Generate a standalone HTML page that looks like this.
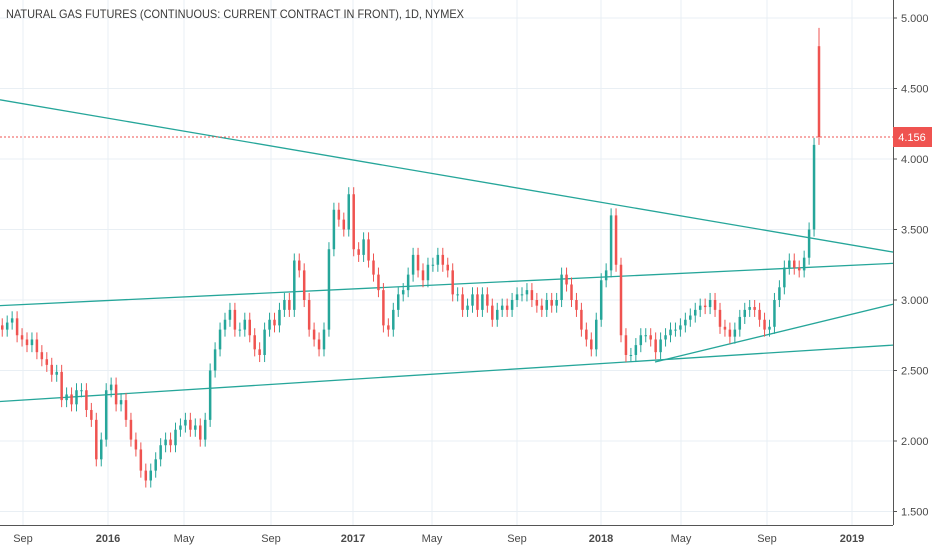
<!DOCTYPE html>
<html><head><meta charset="utf-8"><style>
body{margin:0;background:#fff;}
svg{display:block;font-family:"Liberation Sans",sans-serif;}
</style></head><body>
<svg id="chart" width="932" height="550" xmlns="http://www.w3.org/2000/svg">
<g id="grid"></g>
<g id="trend"></g>
<g id="candles"></g>
<line x1="0" x2="893" y1="137" y2="137" stroke="#ef5350" stroke-width="1" stroke-dasharray="2,2"/>
<g id="axes"></g>
<text x="6" y="18" font-size="12" fill="#3a3a3a" textLength="458" lengthAdjust="spacingAndGlyphs">NATURAL GAS FUTURES (CONTINUOUS: CURRENT CONTRACT IN FRONT), 1D, NYMEX</text>
</svg>
<script>
const closes=[2.79,2.84,2.87,2.75,2.72,2.68,2.72,2.63,2.58,2.54,2.47,2.49,2.29,2.33,2.26,2.36,2.36,2.22,2.15,1.87,2.01,2.36,2.40,2.26,2.29,2.15,2.01,1.94,1.79,1.72,1.79,1.87,1.97,2.01,1.97,2.08,2.11,2.15,2.08,2.11,2.01,2.15,2.50,2.65,2.79,2.86,2.93,2.79,2.79,2.86,2.75,2.65,2.61,2.79,2.86,2.82,2.93,3.00,2.93,3.28,3.21,3.00,2.79,2.72,2.65,2.79,3.36,3.64,3.57,3.50,3.75,3.36,3.32,3.43,3.28,3.18,3.07,2.82,2.79,2.93,3.04,3.07,3.18,3.32,3.21,3.14,3.25,3.25,3.32,3.25,3.21,3.04,3.04,2.93,2.96,3.04,2.93,3.04,2.96,2.86,2.93,2.96,2.93,3.00,3.04,3.04,3.07,3.00,2.96,2.93,3.00,2.96,3.00,3.18,3.11,3.00,2.93,2.79,2.72,2.65,2.86,3.14,3.21,3.60,3.25,2.75,2.61,2.61,2.68,2.75,2.75,2.72,2.63,2.72,2.75,2.79,2.79,2.82,2.86,2.89,2.93,2.96,2.95,3.00,2.93,2.81,2.79,2.74,2.79,2.88,2.93,2.95,2.93,2.86,2.79,2.81,3.00,3.09,3.23,3.28,3.23,3.21,3.30,3.50,4.10];
const lastCandle=[4.80,4.93,4.10,4.156]; // open, high, low, close
const priceTicks=[1.5,2.0,2.5,3.0,3.5,4.0,4.5,5.0];
const timeLabels=["Sep","2016","May","Sep","2017","May","Sep","2018","May","Sep","2019"];
const timeLabelPos=[23,108,184,271,353,432,517,601,681,767,852];
const trendStart=[4.42,2.96,2.28,2.56];
const trendEnd=[3.34,3.26,2.68,2.97];
const trendX0=[0,0,0,655];

const NS="http://www.w3.org/2000/svg";
const yS=p=>18+(5-p)*141;
const xS=i=>1+i*4.95;
function mk(t,a,par){const e=document.createElementNS(NS,t);for(const k in a)e.setAttribute(k,a[k]);par.appendChild(e);return e;}
const grid=document.getElementById('grid'),axes=document.getElementById('axes'),cg=document.getElementById('candles'),tg=document.getElementById('trend');
priceTicks.forEach(p=>{
 const l=mk('line',{x1:0,x2:893,y1:yS(p),y2:yS(p),stroke:'#e9eff4','stroke-width':1},grid);
 
 
 const t=mk('text',{x:901,y:yS(p)+4,'font-size':11,fill:'#4a4a4a'},axes);
 t.textContent=p.toFixed(3);
 
 
 mk('line',{x1:893,x2:897,y1:yS(p),y2:yS(p),stroke:'#555'},axes);
});
timeLabels.forEach((s,i)=>{
 const x=timeLabelPos[i];
 const l=mk('line',{x1:x,x2:x,y1:0,y2:525,stroke:'#e9eff4','stroke-width':1},grid);
 
 
 const bold=/^\d/.test(s);
 const t=mk('text',{x:x,y:542,'font-size':11,fill:'#4a4a4a','text-anchor':'middle','font-weight':bold?'bold':'normal'},axes);
 t.textContent=s;
 
 
});
mk('line',{x1:893.5,x2:893.5,y1:0,y2:525,stroke:'#555'},axes);
mk('line',{x1:0,x2:893,y1:525.5,y2:525.5,stroke:'#555'},axes);
const box=mk('rect',{x:893,y:127,width:39,height:20,fill:'#ef5350'},axes);


const bt=mk('text',{x:912,y:141,'font-size':11,fill:'#fff','text-anchor':'middle'},axes);
bt.textContent=lastCandle[3].toFixed(3);



trendStart.forEach((p,i)=>{
 const l=mk('line',{x1:trendX0[i],y1:yS(p),x2:893,y2:yS(trendEnd[i]),stroke:'#26a69a','stroke-width':1.3},tg);
 
 
});
function candle(x,o,h,l,c){
 const up=c>=o,col=up?'#26a69a':'#ef5350';
 const g=mk('g',{},cg);
 
 
 mk('line',{x1:x+1.25,x2:x+1.25,y1:yS(h),y2:yS(l),stroke:col,'stroke-width':1},g);
 const t=Math.min(yS(o),yS(c)),b=Math.max(yS(o),yS(c));
 mk('rect',{x:x,y:t,width:2.5,height:Math.max(1,b-t),fill:col},g);
}
closes.forEach((c,i)=>{
 const o=i?closes[i-1]:c+0.03;
 candle(xS(i),o,Math.max(o,c)+0.05,Math.min(o,c)-0.05,c);
});
candle(xS(closes.length),lastCandle[0],lastCandle[1],lastCandle[2],lastCandle[3]);
</script>
</body></html>
